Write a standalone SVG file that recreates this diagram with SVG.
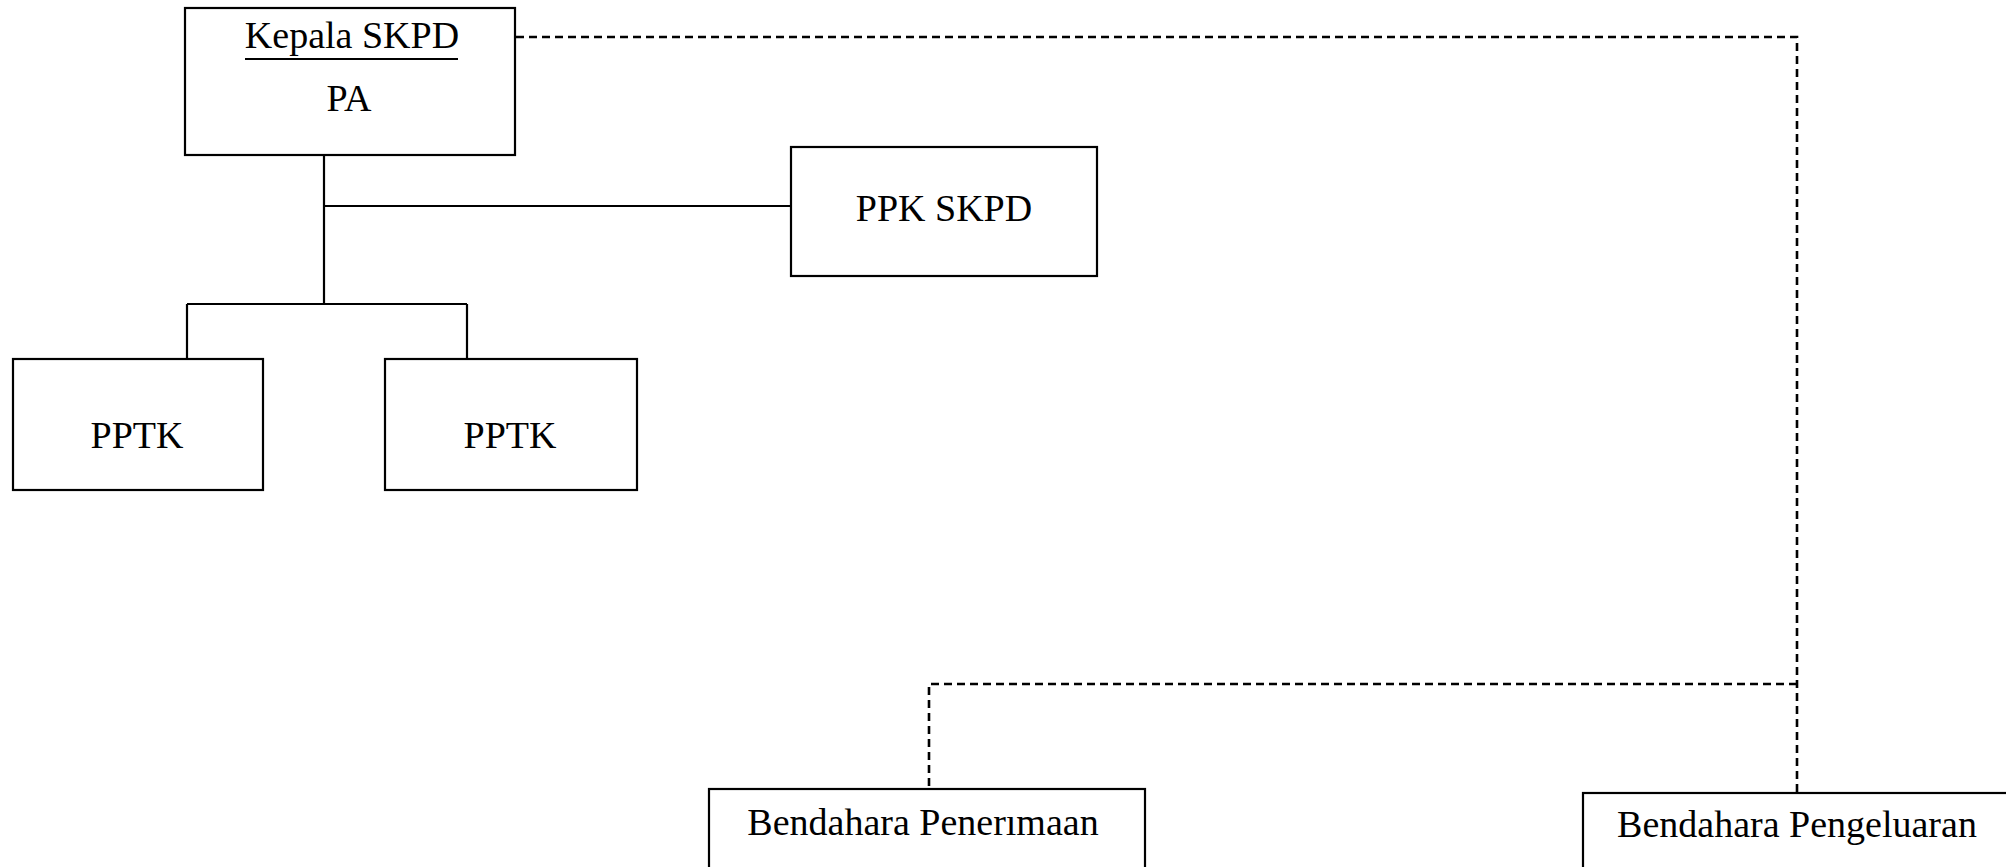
<svg xmlns="http://www.w3.org/2000/svg" width="2006" height="867" viewBox="0 0 2006 867">
<style>
.box{fill:#fff;stroke:#000;stroke-width:2.2}
.t{font-family:"Liberation Serif","Times New Roman",serif;font-size:38px;fill:#000;text-anchor:middle}
.solid{fill:none;stroke:#000;stroke-width:2.2}
.dash{fill:none;stroke:#000;stroke-width:2.6;stroke-dasharray:8 5}
</style>
<rect width="2006" height="867" fill="#fff"/>
<g id="connectors">
<path class="solid" d="M324 156 V304 M324 206 H791 M187 304 H467 M187 304 V359 M467 304 V359"/>
<path class="dash" d="M516 37 H1797 V792 M1797 684 H929 V789"/>
</g>
<g id="kepala">
<rect class="box" x="185" y="8" width="330" height="147"/>
<text class="t" x="352" y="48">Kepala SKPD</text>
<line x1="245" y1="59" x2="458" y2="59" stroke="#000" stroke-width="1.8"/>
<text class="t" x="349" y="111">PA</text>
</g>
<g id="ppk">
<rect class="box" x="791" y="147" width="306" height="129"/>
<text class="t" x="944" y="221">PPK SKPD</text>
</g>
<g id="pptk1">
<rect class="box" x="13" y="359" width="250" height="131"/>
<text class="t" x="137" y="448">PPTK</text>
</g>
<g id="pptk2">
<rect class="box" x="385" y="359" width="252" height="131"/>
<text class="t" x="510" y="448">PPTK</text>
</g>
<g id="penerimaan">
<rect class="box" x="709" y="789" width="436" height="120"/>
<text class="t" x="923" y="835">Bendahara Penerımaan</text>
</g>
<g id="pengeluaran">
<rect class="box" x="1583" y="793" width="460" height="120"/>
<text class="t" x="1797" y="837">Bendahara Pengeluaran</text>
</g>
</svg>
